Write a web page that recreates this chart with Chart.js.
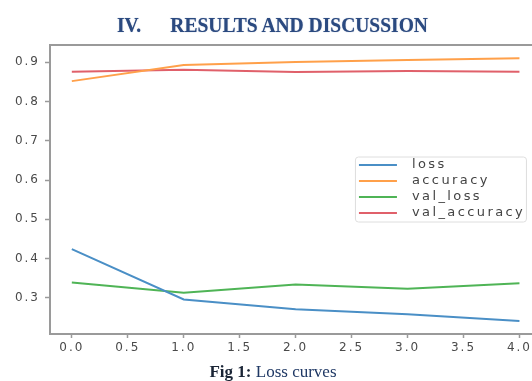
<!DOCTYPE html>
<html>
<head>
<meta charset="utf-8">
<script src="https://cdn.jsdelivr.net/npm/chart.js@4.4.0/dist/chart.umd.min.js"></script>
<style>
  html, body { margin: 0; padding: 0; background: #fff; width: 532px; height: 381px; overflow: hidden; }
  #wrap { position: relative; width: 532px; height: 381px; overflow: hidden; }
  canvas { position: absolute; left: 0; top: 0; }
  #title { position: absolute; left: 0; width: 545px; top: 13px; text-align: center;
    font-family: "Liberation Serif", serif; font-weight: bold; font-size: 21px; line-height: 24px; color: #2b4a80;
    text-shadow: 0 0 1px rgba(43,74,128,0.6); white-space: pre; transform: scaleX(0.93); transform-origin: 272.5px 0; }
  #caption { position: absolute; left: 0; width: 546px; top: 362px; text-align: center;
    font-family: "Liberation Serif", serif; font-size: 17px; line-height: 19px; color: #1f3864; white-space: pre; }
  #caption b { color: #1a2536; }
</style>
</head>
<body>
<div id="wrap">
  <canvas id="c" width="532" height="381"></canvas>
  <div id="title">IV.      RESULTS AND DISCUSSION</div>
  <div id="caption"><b>Fig 1:</b> Loss curves</div>
</div>
<script>
const epochs = [0, 1, 2, 3, 4];
const loss = [0.424, 0.296, 0.271, 0.258, 0.241];
const accuracy = [0.852, 0.893, 0.901, 0.906, 0.910];
const valLoss = [0.339, 0.313, 0.334, 0.323, 0.337];
const valAccuracy = [0.876, 0.881, 0.875, 0.878, 0.876];
const seriesNames = ['loss', 'accuracy', 'val_loss', 'val_accuracy'];
const seriesColors = ['#4a8fc6', '#ffa04a', '#4fb456', '#e0606a'];
const xTicks = [0, 0.5, 1, 1.5, 2, 2.5, 3, 3.5, 4];
const yTicks = [0.3, 0.4, 0.5, 0.6, 0.7, 0.8, 0.9];

const allSeries = [loss, accuracy, valLoss, valAccuracy];
const datasets = allSeries.map((s, i) => ({
  label: seriesNames[i],
  data: epochs.map((e, j) => ({ x: e, y: s[j] })),
  borderColor: seriesColors[i],
  backgroundColor: seriesColors[i],
  borderWidth: 2,
  pointRadius: 0,
  tension: 0,
  fill: false
}));

const tickFont = { family: 'DejaVu Sans', size: 12 };
const axisGray = '#9a9a9a';

const spacingPlugin = {
  id: 'spacing',
  beforeDraw(chart) { chart.ctx.letterSpacing = '2px'; }
};

const legendPlugin = {
  id: 'customLegend',
  afterDraw(chart) {
    const ctx = chart.ctx;
    const xs = chart.scales.x, ys = chart.scales.y;
    const bx = xs.getPixelForValue(2.53), by = ys.getPixelForValue(0.660);
    const bw = 171, bh = 65;
    ctx.save();
    ctx.letterSpacing = '2.4px';
    ctx.fillStyle = 'rgba(255,255,255,0.9)';
    ctx.strokeStyle = '#dedede';
    ctx.lineWidth = 1;
    ctx.beginPath();
    if (ctx.roundRect) ctx.roundRect(bx + 0.5, by + 0.5, bw, bh, 3); else ctx.rect(bx + 0.5, by + 0.5, bw, bh);
    ctx.fill(); ctx.stroke();
    ctx.font = '13px "DejaVu Sans"';
    ctx.textBaseline = 'middle';
    chart.data.datasets.forEach((d, i) => {
      const yy = by + 8.5 + i * 16;
      ctx.strokeStyle = d.borderColor;
      ctx.lineWidth = 2;
      ctx.beginPath();
      ctx.moveTo(bx + 4, yy);
      ctx.lineTo(bx + 42, yy);
      ctx.stroke();
      ctx.fillStyle = '#444';
      ctx.fillText(d.label, bx + 57, yy);
    });
    ctx.restore();
  }
};

new Chart(document.getElementById('c'), {
  type: 'line',
  data: { datasets },
  plugins: [spacingPlugin, legendPlugin],
  options: {
    responsive: false,
    animation: false,
    layout: { padding: { top: 45, bottom: 22, left: 0, right: 0 } },
    plugins: { legend: { display: false }, tooltip: { enabled: false }, title: { display: false } },
    scales: {
      x: {
        type: 'linear',
        min: -0.195,
        max: 4.11,
        afterBuildTicks: (s) => { s.ticks = xTicks.map(v => ({ value: v })); },
        afterFit: (s) => { s.height = 25; },
        ticks: { font: tickFont, color: '#4a4a4a', padding: 3, maxRotation: 0,
          callback: (v) => Number(v).toFixed(1) },
        grid: { drawOnChartArea: false, drawTicks: true, tickLength: 4, color: axisGray, tickWidth: 1.5 },
        border: { display: true, color: axisGray, width: 2 }
      },
      x2: {
        type: 'linear',
        position: 'top',
        min: -0.195,
        max: 4.11,
        afterFit: (s) => { s.height = 0; },
        ticks: { display: false },
        grid: { drawOnChartArea: false, drawTicks: false },
        border: { display: true, color: axisGray, width: 2 }
      },
      y: {
        min: 0.208,
        max: 0.944,
        afterBuildTicks: (s) => { s.ticks = yTicks.map(v => ({ value: v })); },
        afterFit: (s) => { s.width = 50; },
        ticks: { font: tickFont, color: '#4a4a4a', padding: 5,
          callback: (v) => Number(v).toFixed(1) },
        grid: { drawOnChartArea: false, drawTicks: true, tickLength: 5, color: axisGray, tickWidth: 1.5 },
        border: { display: true, color: axisGray, width: 2 }
      }
    }
  }
});
</script>
</body>
</html>
